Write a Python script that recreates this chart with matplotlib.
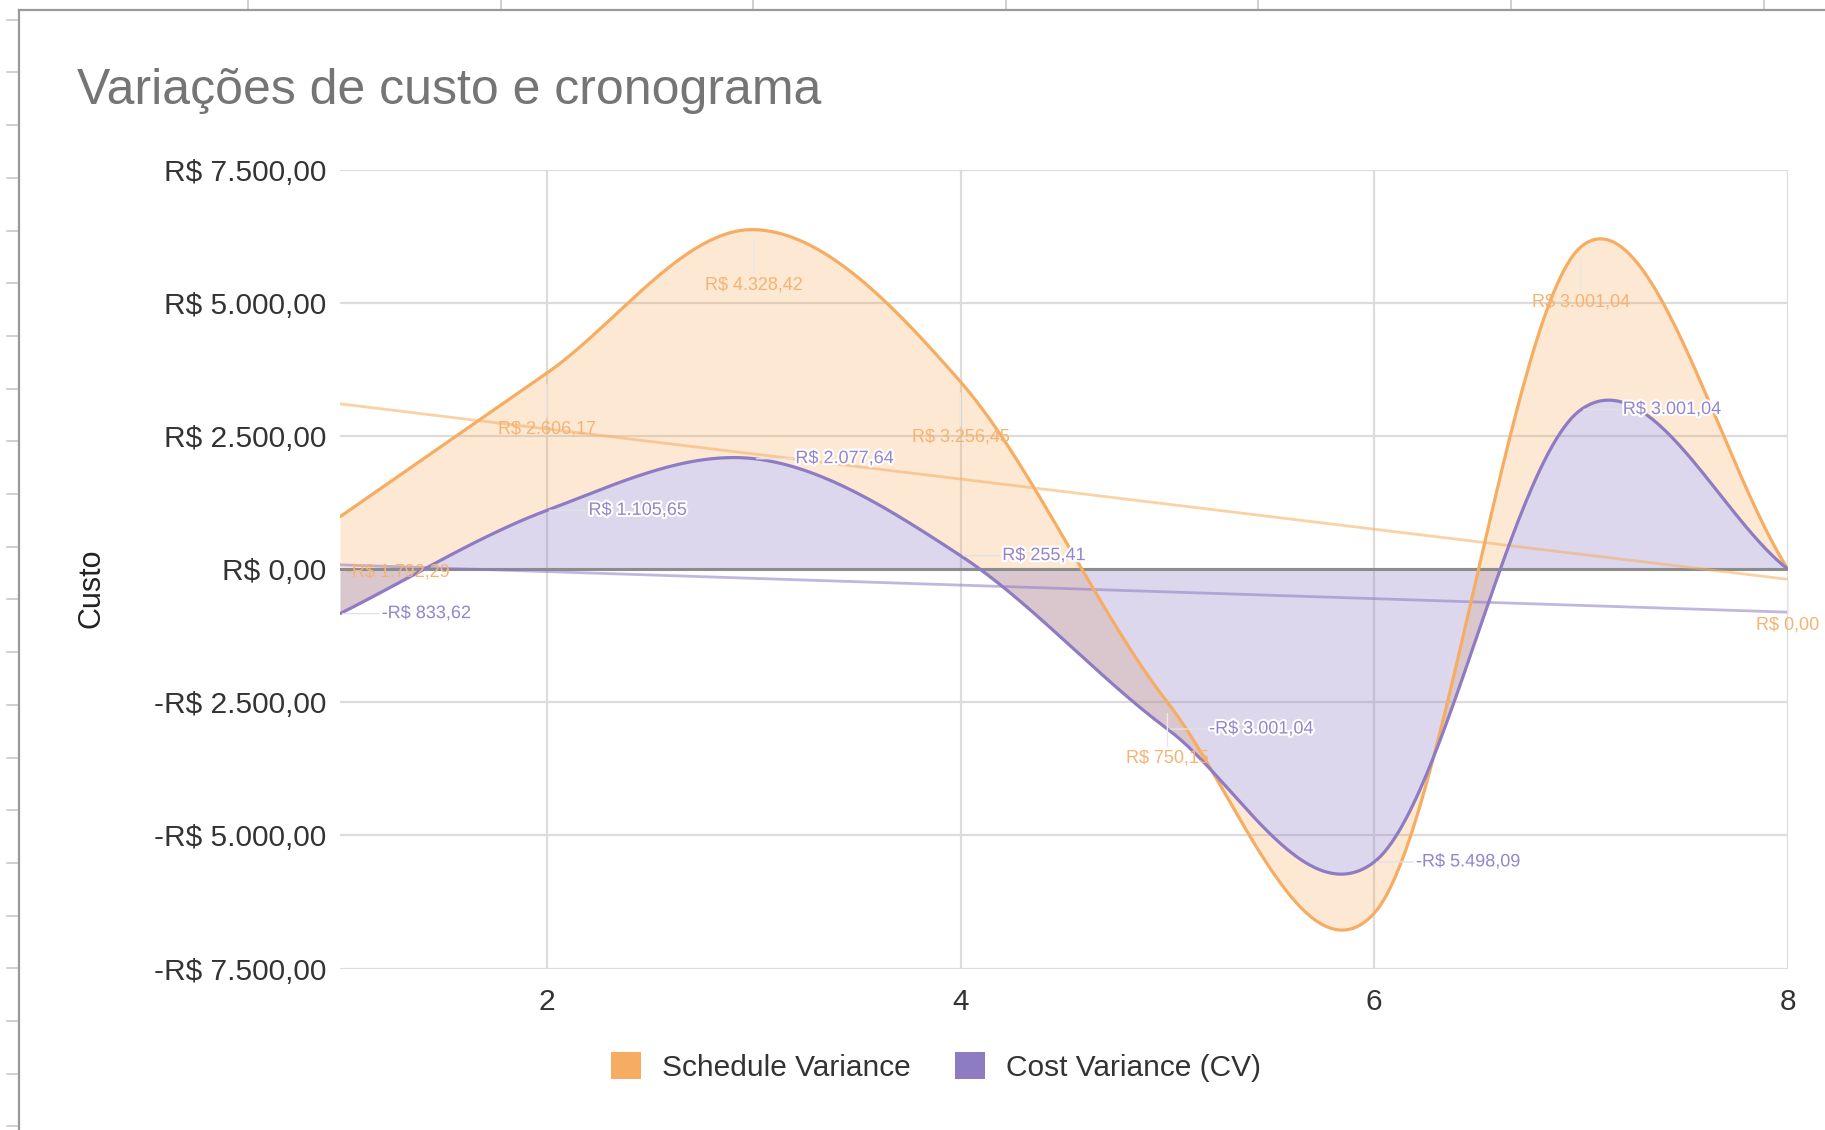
import numpy as np
import matplotlib.pyplot as plt
from matplotlib.lines import Line2D
from matplotlib.patches import Patch
import matplotlib.patheffects as pe

plt.rcParams['font.family'] = ['Liberation Sans', 'DejaVu Sans']

# Data
periods = [1, 2, 3, 4, 5, 6, 7, 8]
schedule_variance = [986, 3685, 6380, 3520, -2500, -6460, 6060, 0]
cost_variance = [-833.62, 1105.65, 2077.64, 255.41, -3001.04, -5498.09, 3001.04, 0]

# data labels as shown in the chart
sv_labels = ["-R$ 1.792,29", "R$ 2.606,17", "R$ 4.328,42", "R$ 3.256,45",
             "R$ 750,15", None, "R$ 3.001,04", "R$ 0,00"]
cv_labels = ["-R$ 833,62", "R$ 1.105,65", "R$ 2.077,64", "R$ 255,41",
             "-R$ 3.001,04", "-R$ 5.498,09", "R$ 3.001,04", None]

y_ticks = [-7500, -5000, -2500, 0, 2500, 5000, 7500]
x_ticks = [2, 4, 6, 8]

ORANGE = "#f6ad62"
PURPLE = "#8e7cc3"


def brl(v):
    s = f"{abs(v):,.2f}".replace(",", "X").replace(".", ",").replace("X", ".")
    return ("-R$ " if v < 0 else "R$ ") + s


def smooth(x, y, n=60):
    # catmull-rom style cubic hermite through the points
    x = np.asarray(x, float)
    y = np.asarray(y, float)
    m = np.empty_like(y)
    m[1:-1] = (y[2:] - y[:-2]) / (x[2:] - x[:-2])
    m[0] = (y[1] - y[0]) / (x[1] - x[0])
    m[-1] = (y[-1] - y[-2]) / (x[-1] - x[-2])
    xs, ys = [], []
    for i in range(len(x) - 1):
        h = x[i + 1] - x[i]
        t = np.linspace(0, 1, n, endpoint=(i == len(x) - 2))
        h00 = 2 * t**3 - 3 * t**2 + 1
        h10 = t**3 - 2 * t**2 + t
        h01 = -2 * t**3 + 3 * t**2
        h11 = t**3 - t**2
        xs.append(x[i] + t * h)
        ys.append(h00 * y[i] + h10 * h * m[i] + h01 * y[i + 1] + h11 * h * m[i + 1])
    return np.concatenate(xs), np.concatenate(ys)


W, H = 1825, 1130
fig = plt.figure(figsize=(W / 100, H / 100), dpi=100)
fig.patch.set_facecolor("white")

# spreadsheet behind the chart
for xc in np.arange(248, W, 252.6):
    fig.add_artist(Line2D([xc / W, xc / W], [1, 1 - 10 / H], color="#c8c8c8", lw=1.2))
for yc in np.arange(19.7, H, 52.7):
    fig.add_artist(Line2D([7 / W, 18 / W], [1 - yc / H, 1 - yc / H], color="#c8c8c8", lw=1.2))
fig.add_artist(Line2D([19 / W, 1], [1 - 10 / H, 1 - 10 / H], color="#9a9a9a", lw=1.6))
fig.add_artist(Line2D([19 / W, 19 / W], [0, 1 - 10 / H], color="#9a9a9a", lw=1.6))

ax = fig.add_axes([340 / W, 1 - 968.5 / H, 1448 / W, 798.5 / H])
ax.set_xlim(1, 8)
ax.set_ylim(-7500, 7500)

xs, sv_s = smooth(periods, schedule_variance)
_, cv_s = smooth(periods, cost_variance)

ax.fill_between(xs, sv_s, cv_s, color=ORANGE, alpha=0.28, lw=0, zorder=2)
ax.fill_between(xs, cv_s, 0, color=PURPLE, alpha=0.3, lw=0, zorder=3)
ax.axhline(0, color="#8c8c8c", lw=2.2, zorder=4)

# linear trendlines
xt = np.array([1, 8])
for vals, col in [(schedule_variance, ORANGE), (cost_variance, PURPLE)]:
    k, b = np.polyfit(periods, vals, 1)
    ax.plot(xt, k * xt + b, color=col, lw=2, alpha=0.55, zorder=5)

ax.plot(xs, sv_s, color=ORANGE, lw=2.3, zorder=6, solid_capstyle="round")
ax.plot(xs, cv_s, color=PURPLE, lw=2.3, zorder=7, solid_capstyle="round")

# data labels
for i, (x, v, lab) in enumerate(zip(periods, schedule_variance, sv_labels)):
    if lab is None:
        continue
    if i == 0:
        # would sit under the "R$ 0,00" tick label, nudge it right
        ax.annotate(lab, (x, v), xytext=(4, -40), textcoords="offset points",
                    ha="left", va="center", fontsize=13, color="#f5b373",
                    annotation_clip=False, zorder=8)
        continue
    ax.annotate(lab, (x, v), xytext=(0, -40), textcoords="offset points",
                ha="center", va="center", fontsize=13, color="#f5b373",
                annotation_clip=False, zorder=8,
                arrowprops=dict(arrowstyle="-", color="#e8e8e8", lw=1,
                                shrinkA=0, shrinkB=8))
for x, v, lab in zip(periods, cost_variance, cv_labels):
    if lab is None:
        continue
    ax.annotate(lab, (x, v), xytext=(30, 0), textcoords="offset points",
                ha="left", va="center", fontsize=13, color="#9585c9",
                annotation_clip=False, zorder=9,
                path_effects=[pe.withStroke(linewidth=3, foreground="white")],
                arrowprops=dict(arrowstyle="-", color="#e2e2e2", lw=1,
                                shrinkA=0, shrinkB=2))

# axes styling
ax.set_yticks(y_ticks)
ax.set_yticklabels([brl(v) for v in y_ticks])
ax.set_xticks(x_ticks)
ax.tick_params(length=0, labelsize=21.5, labelcolor="#333333")
ax.tick_params(axis="y", pad=10)
ax.tick_params(axis="x", pad=14)
ax.grid(True, color="#dcdcdc", lw=1.6, zorder=0)
ax.set_axisbelow(True)
for s in ax.spines.values():
    s.set_visible(False)

ax.set_ylabel("Custo", fontsize=22, color="#222222")
ax.yaxis.set_label_coords(-0.161, 0.476)

fig.text(77 / W, 1 - 91 / H, "Variações de custo e cronograma", fontsize=36,
         color="#757575", ha="left", va="center")

handles = [Patch(facecolor=ORANGE, edgecolor="none", label="Schedule Variance"),
           Patch(facecolor=PURPLE, edgecolor="none", label="Cost Variance (CV)")]
fig.legend(handles=handles, loc="center", bbox_to_anchor=(0.513, 1 - 1067 / H),
           ncol=2, frameon=False, fontsize=21.5, handlelength=1.0,
           handleheight=1.0, handletextpad=0.7, columnspacing=1.5,
           labelcolor="#333333")

fig.savefig("out.png", dpi=100)
